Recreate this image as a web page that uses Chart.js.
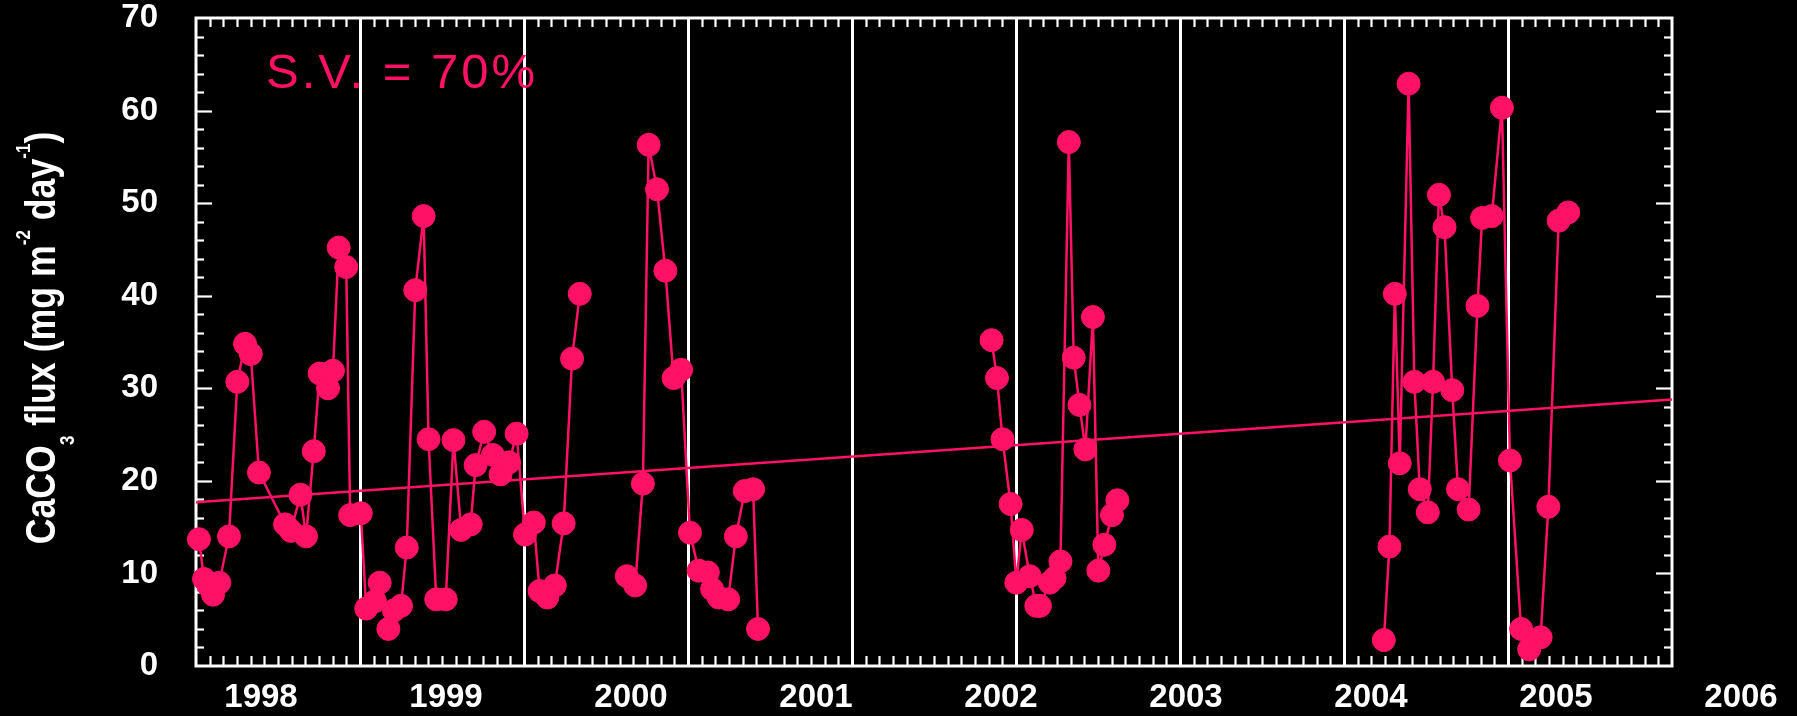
<!DOCTYPE html>
<html>
<head>
<meta charset="utf-8">
<title>CaCO3 flux</title>
<script src="https://cdn.jsdelivr.net/npm/chart.js@4.4.1/dist/chart.umd.min.js"></script>
<style>
  html, body { margin: 0; padding: 0; background: #000; }
  #wrap { width: 1797px; height: 716px; }
</style>
</head>
<body>
<div id="wrap"><canvas id="c" width="1797" height="716"></canvas></div>
<script>
// ---- data -------------------------------------------------------------
// Sampling dates (decimal years) and CaCO3 flux (mg m-2 day-1), one pair per deployment run
const tRun1 = [1997.018, 1997.049, 1997.076, 1997.104, 1997.142, 1997.201, 1997.252, 1997.299, 1997.334, 1997.384,
               1997.543, 1997.579, 1997.637, 1997.671, 1997.718, 1997.754, 1997.805, 1997.835, 1997.870, 1997.916,
               1997.940, 1998.005, 1998.038, 1998.091, 1998.120, 1998.173, 1998.207, 1998.250, 1998.285, 1998.337,
               1998.388, 1998.418, 1998.465, 1998.523, 1998.570, 1998.617, 1998.675, 1998.705, 1998.757, 1998.810,
               1998.857, 1998.909, 1998.955, 1999.006, 1999.060, 1999.095, 1999.142, 1999.188, 1999.242, 1999.293,
               1999.340];
const fRun1 = [13.7, 9.4, 8.7, 7.7, 9.0, 14.0, 30.7, 34.8, 33.7, 20.9,
               15.3, 14.6, 18.5, 14.0, 23.2, 31.6, 30.0, 31.9, 45.2, 43.1,
               16.3, 16.5, 6.2, 7.0, 9.0, 4.0, 6.0, 6.5, 12.8, 40.6,
               48.6, 24.5, 7.2, 7.2, 24.4, 14.7, 15.3, 21.7, 25.3, 22.8,
               20.7, 22.0, 25.1, 14.2, 15.5, 8.1, 7.4, 8.7, 15.4, 33.2,
               40.2];

const tRun2 = [1999.627, 1999.678, 1999.725, 1999.760, 1999.811, 1999.862, 1999.912, 1999.958, 2000.012, 2000.065,
               2000.121, 2000.147, 2000.187, 2000.245, 2000.292, 2000.346, 2000.397, 2000.427];
const fRun2 = [9.7, 8.7, 19.7, 56.3, 51.5, 42.7, 31.1, 32.0, 14.4, 10.3,
               10.1, 8.3, 7.4, 7.2, 14.0, 18.9, 19.1, 4.0];

const tRun3 = [2001.851, 2001.884, 2001.918, 2001.967, 2002.002, 2002.035, 2002.084, 2002.124, 2002.146, 2002.206,
               2002.235, 2002.271, 2002.322, 2002.352, 2002.387, 2002.423, 2002.469, 2002.502, 2002.539, 2002.585,
               2002.618];
const fRun3 = [35.2, 31.1, 24.5, 17.5, 9.0, 14.7, 9.7, 6.5, 6.5, 9.0,
               9.5, 11.3, 56.6, 33.3, 28.2, 23.4, 37.7, 10.3, 13.1, 16.3,
               17.9];

const tRun4 = [2004.243, 2004.277, 2004.310, 2004.340, 2004.394, 2004.429, 2004.462, 2004.511, 2004.543, 2004.579,
               2004.613, 2004.660, 2004.695, 2004.760, 2004.814, 2004.842, 2004.901, 2004.963, 2005.012, 2005.080,
               2005.129, 2005.199, 2005.246, 2005.309, 2005.367];
const fRun4 = [2.8, 12.9, 40.2, 21.9, 62.9, 30.7, 19.1, 16.6, 30.7, 50.9,
               47.4, 29.8, 19.1, 16.9, 38.9, 48.4, 48.6, 60.3, 22.2, 4.0,
               1.8, 3.1, 17.2, 48.1, 49.0];

// Linear trend, evaluated at both ends of the time axis
const trendT = [1997.0, 2006.0];
const trendF = [17.7, 28.8];

// ---- axes ---------------------------------------------------------------
const X_MIN = 1997.0, X_MAX = 2006.0;
const yearLines = [1998, 1999, 2000, 2001, 2002, 2003, 2004, 2005];
const yearLabels = [1998, 1999, 2000, 2001, 2002, 2003, 2004, 2005, 2006];
// the year labels run on their own, slightly wider spacing
const LABEL_AXIS_MIN = 1997.6486, LABEL_AXIS_MAX = 2005.627;
const Y_MIN = 0, Y_MAX = 70, Y_MAJOR = 10, Y_MINOR = 2;

const PINK = '#ff1166';
const WHITE = '#ffffff';

const pairs = (t, f) => t.map((v, i) => ({ x: v, y: f[i] }));

const runStyle = {
  xAxisID: 'x', yAxisID: 'y',
  borderColor: PINK, backgroundColor: PINK,
  borderWidth: 2.5,
  pointRadius: 11.5, pointBorderWidth: 1,
  pointBackgroundColor: PINK, pointBorderColor: PINK,
  tension: 0, clip: false, order: 1
};

const datasets = [
  { ...runStyle, data: pairs(trendT, trendF), pointRadius: 0, pointBorderWidth: 0, order: 2 },
  { ...runStyle, data: pairs(tRun1, fRun1) },
  { ...runStyle, data: pairs(tRun2, fRun2) },
  { ...runStyle, data: pairs(tRun3, fRun3) },
  { ...runStyle, data: pairs(tRun4, fRun4) }
];

// ---- plugins ------------------------------------------------------------
const blackBackground = {
  id: 'blackBackground',
  beforeDraw(chart) {
    const ctx = chart.ctx;
    ctx.save();
    ctx.fillStyle = '#000';
    ctx.fillRect(0, 0, chart.width, chart.height);
    ctx.restore();
  }
};

// box frame with inward tick marks on all four sides
const frameTicks = {
  id: 'frameTicks',
  beforeDatasetsDraw(chart) {
    const { ctx, chartArea: a, scales: { x, y } } = chart;
    const seg = (x1, y1, x2, y2) => { ctx.beginPath(); ctx.moveTo(x1, y1); ctx.lineTo(x2, y2); ctx.stroke(); };
    ctx.save();
    ctx.strokeStyle = WHITE;
    ctx.lineWidth = 2.2;
    for (let v = Y_MIN + Y_MINOR; v < Y_MAX; v += Y_MINOR) {
      const py = Math.round(y.getPixelForValue(v)) + 0.5;
      const len = v % Y_MAJOR === 0 ? 16 : 8;
      seg(a.left, py, a.left + len, py);
      seg(a.right, py, a.right - len, py);
    }
    const months = Math.round((X_MAX - X_MIN) * 12);
    for (let m = 1; m < months; m++) {
      const px = Math.round(x.getPixelForValue(X_MIN + m / 12)) + 0.5;
      seg(px, a.bottom, px, a.bottom - 10);
      seg(px, a.top, px, a.top + 9);
    }
    ctx.lineWidth = 3;
    ctx.strokeRect(a.left, a.top, a.right - a.left, a.bottom - a.top);
    ctx.restore();
  }
};

// y-axis title with sub- and superscripts
const titleParts = [
  ['CaCO', 'base'], ['3', 'sub'], [' flux (mg m', 'base'], ['-2', 'sup'],
  [' day', 'base'], ['-1', 'sup'], [')', 'base']
];
const yTitle = {
  id: 'yTitle',
  afterDraw(chart) {
    const { ctx, chartArea: a, scales: { y } } = chart;
    const fonts = {
      base: 'bold 42px "Liberation Sans", Arial, sans-serif',
      sub: 'bold 20px "Liberation Sans", Arial, sans-serif',
      sup: 'bold 20px "Liberation Sans", Arial, sans-serif'
    };
    const shift = { base: 0, sub: 19, sup: -25 };
    ctx.save();
    ctx.fillStyle = WHITE;
    ctx.textBaseline = 'alphabetic';
    ctx.translate(y.left + 55, (a.top + a.bottom) / 2 - 4);
    ctx.rotate(-Math.PI / 2);
    ctx.scale(0.85, 1);
    let total = 0;
    for (const [txt, kind] of titleParts) { ctx.font = fonts[kind]; total += ctx.measureText(txt).width; }
    let pos = -total / 2;
    for (const [txt, kind] of titleParts) {
      ctx.font = fonts[kind];
      ctx.fillText(txt, pos, shift[kind]);
      pos += ctx.measureText(txt).width;
    }
    ctx.restore();
  }
};

const svNote = {
  id: 'svNote',
  afterDraw(chart) {
    const { ctx, chartArea: a } = chart;
    ctx.save();
    ctx.fillStyle = PINK;
    ctx.font = '49px "Liberation Sans", Arial, sans-serif';
    if ('letterSpacing' in ctx) ctx.letterSpacing = '3px';
    ctx.textBaseline = 'alphabetic';
    ctx.fillText('S.V. = 70%', a.left + 70, a.top + 70);
    ctx.restore();
  }
};

// ---- chart --------------------------------------------------------------
const tickFont = { family: '"Liberation Sans", Arial, sans-serif', size: 33, weight: 'bold' };

new Chart(document.getElementById('c'), {
  type: 'line',
  data: { datasets },
  options: {
    responsive: false,
    animation: false,
    devicePixelRatio: 1,
    layout: { padding: { top: 18, right: 125, left: 0, bottom: 0 } },
    plugins: { legend: { display: false }, tooltip: { enabled: false } },
    scales: {
      x: {
        type: 'linear', position: 'bottom', min: X_MIN, max: X_MAX,
        afterBuildTicks: s => { s.ticks = yearLines.map(v => ({ value: v })); },
        ticks: { display: false },
        grid: { color: WHITE, lineWidth: 3, drawTicks: false, drawOnChartArea: true },
        border: { display: false },
        afterFit: s => { s.height = 0; s.paddingLeft = 0; s.paddingRight = 0; }
      },
      xLab: {
        type: 'linear', position: 'bottom', min: LABEL_AXIS_MIN, max: LABEL_AXIS_MAX,
        afterBuildTicks: s => { s.ticks = yearLabels.map(v => ({ value: v })); },
        ticks: { color: WHITE, font: tickFont, padding: 12, autoSkip: false, maxRotation: 0,
                 callback: v => String(v) },
        grid: { display: false, drawTicks: false },
        border: { display: false },
        afterFit: s => { s.height = 50; s.paddingLeft = 0; s.paddingRight = 0; }
      },
      y: {
        type: 'linear', position: 'left', min: Y_MIN, max: Y_MAX,
        ticks: { stepSize: Y_MAJOR, color: WHITE, font: tickFont, padding: 38 },
        grid: { display: false, drawTicks: false },
        border: { display: false },
        afterFit: s => { s.width = 196; s.paddingTop = 0; s.paddingBottom = 0; }
      }
    }
  },
  plugins: [blackBackground, frameTicks, yTitle, svNote]
});
</script>
</body>
</html>
